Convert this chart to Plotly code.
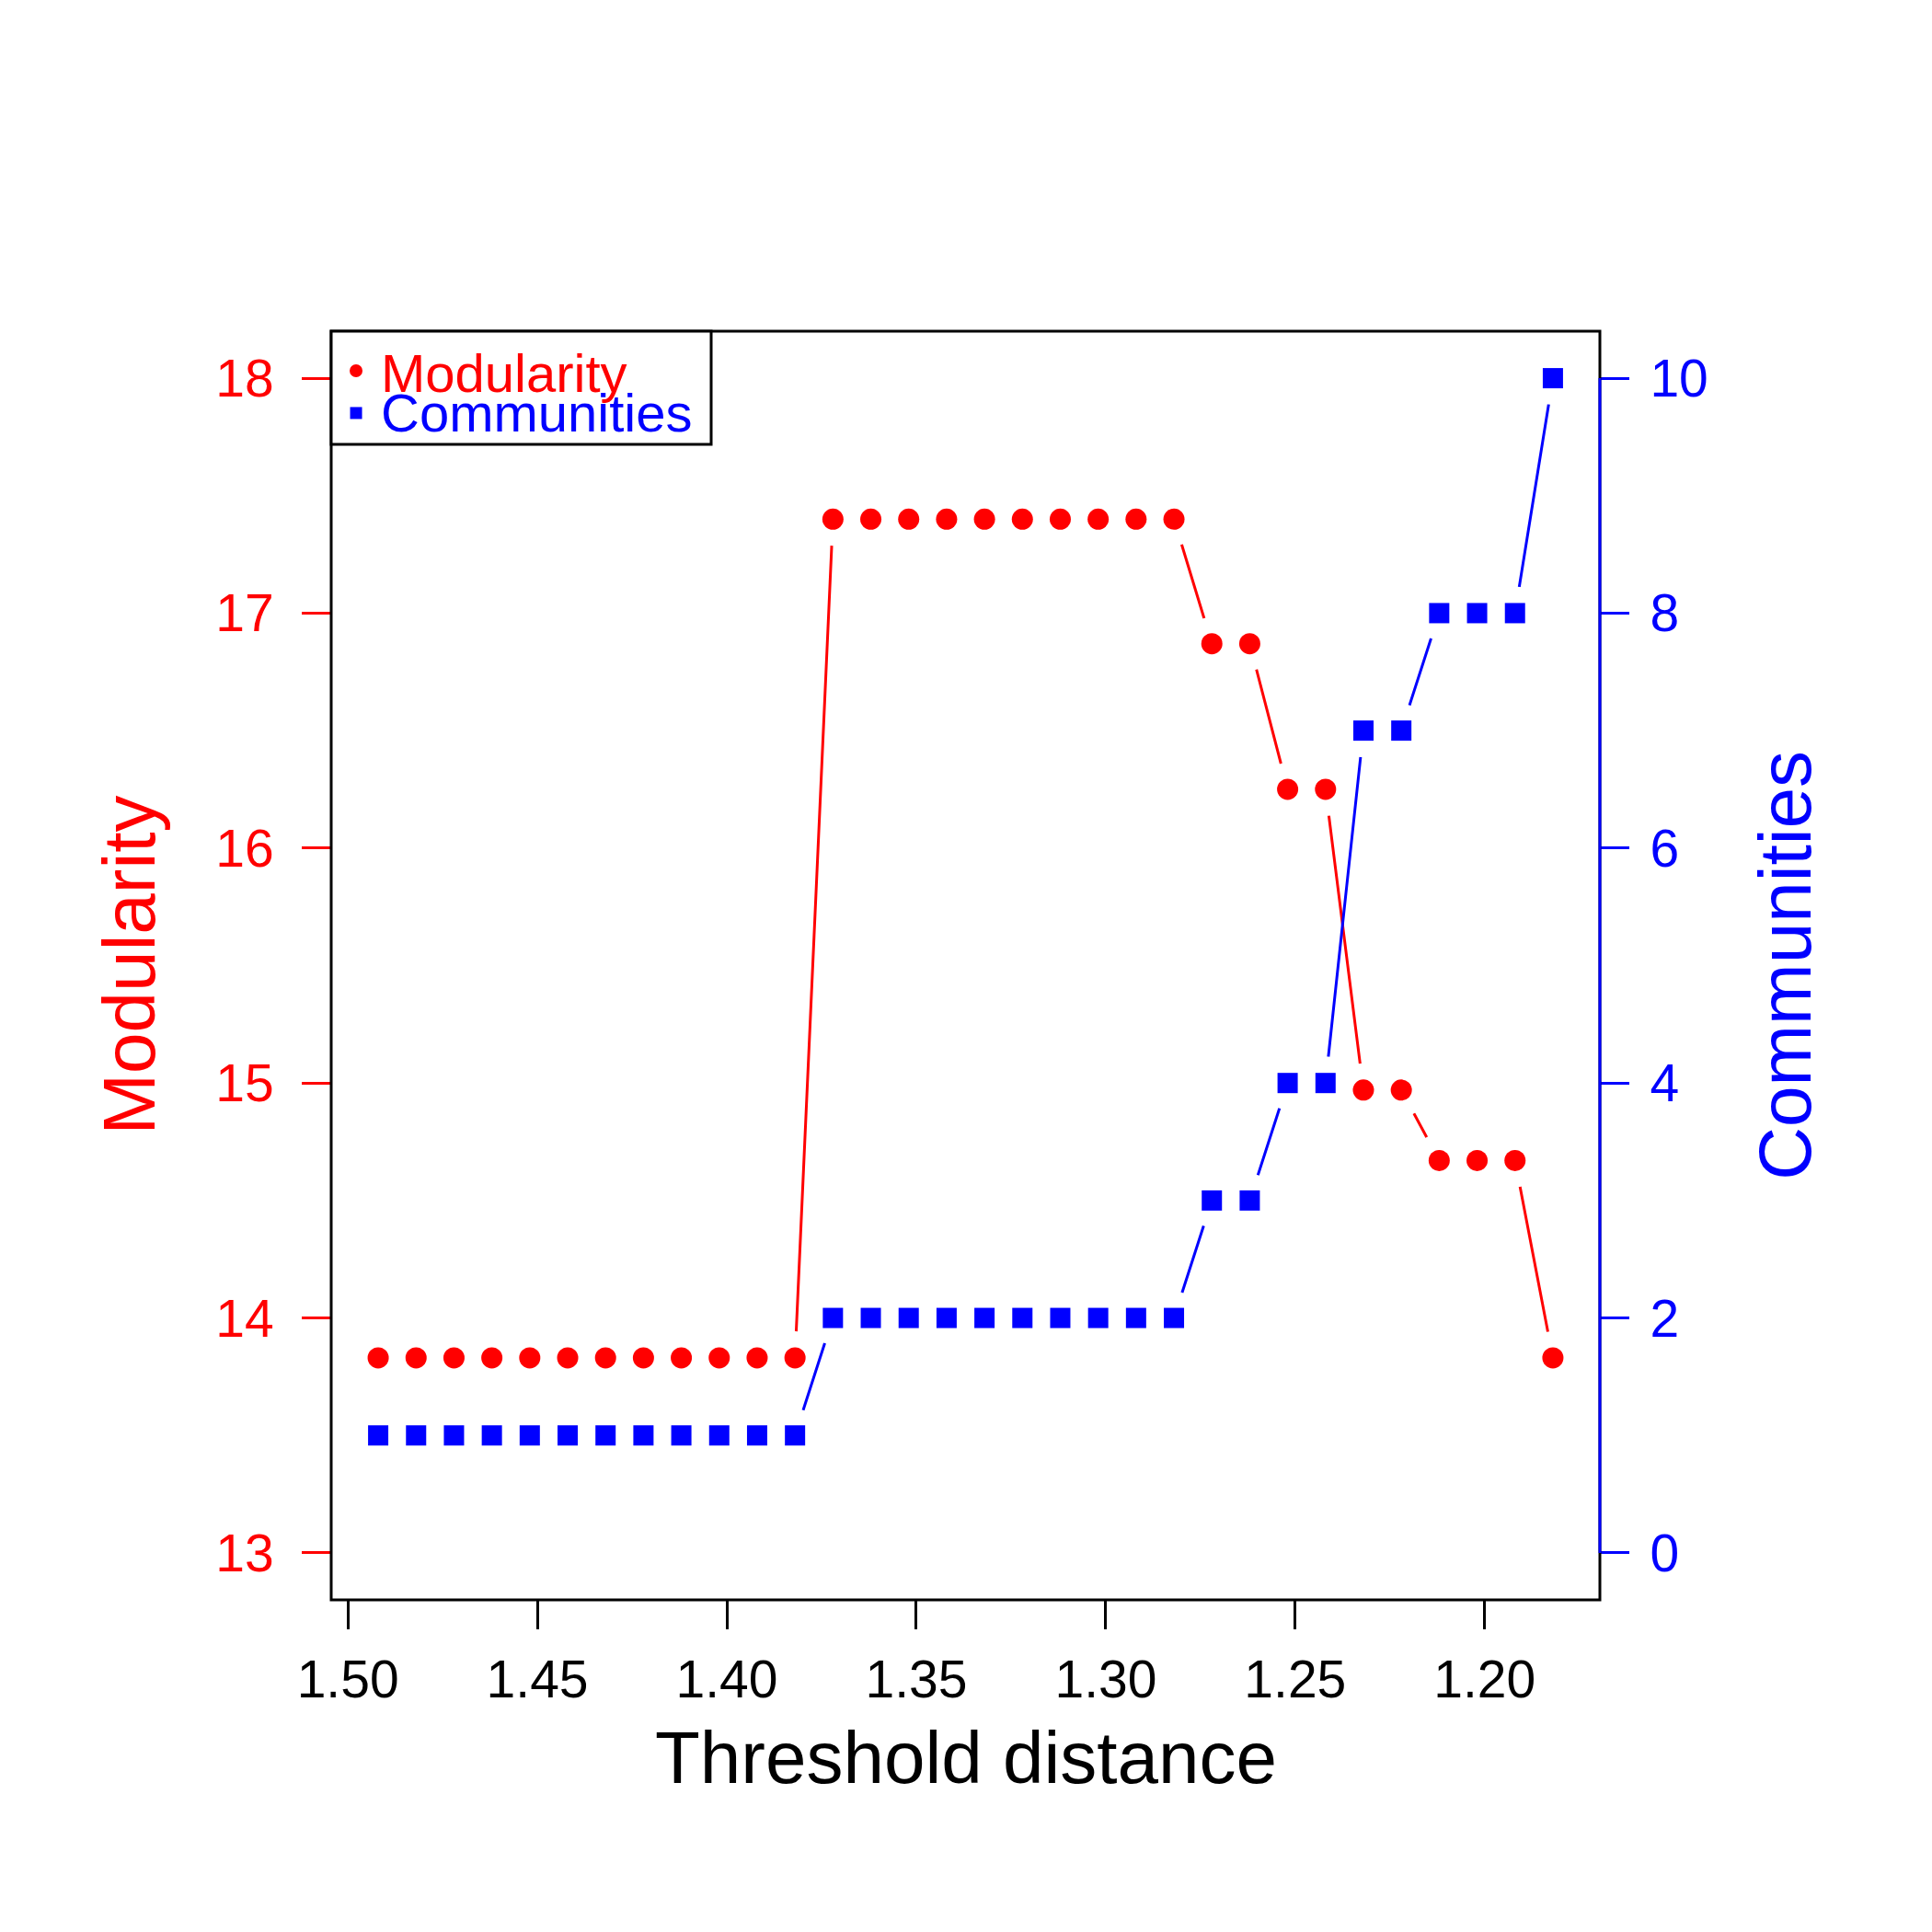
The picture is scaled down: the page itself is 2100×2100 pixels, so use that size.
import plotly.graph_objects as go

# Data
threshold = [1.492, 1.482, 1.472, 1.462, 1.452, 1.442, 1.432, 1.422, 1.412, 1.402,
             1.392, 1.382, 1.372, 1.362, 1.352, 1.342, 1.332, 1.322, 1.312, 1.302,
             1.292, 1.282, 1.272, 1.262, 1.252, 1.242, 1.232, 1.222, 1.212, 1.202,
             1.192, 1.182]
modularity = [13.83, 13.83, 13.83, 13.83, 13.83, 13.83, 13.83, 13.83, 13.83, 13.83,
              13.83, 13.83, 17.40, 17.40, 17.40, 17.40, 17.40, 17.40, 17.40, 17.40,
              17.40, 17.40, 16.87, 16.87, 16.25, 16.25, 14.97, 14.97, 14.67, 14.67,
              14.67, 13.83]
communities = [1, 1, 1, 1, 1, 1, 1, 1, 1, 1,
               1, 1, 2, 2, 2, 2, 2, 2, 2, 2,
               2, 2, 3, 3, 4, 4, 7, 7, 8, 8,
               8, 10]

x_ticks = [1.50, 1.45, 1.40, 1.35, 1.30, 1.25, 1.20]
mod_ticks = [13, 14, 15, 16, 17, 18]
com_ticks = [0, 2, 4, 6, 8, 10]

RED = "#FF0000"
BLUE = "#0000FF"
FONT = "Liberation Sans, Arial, sans-serif"
HALO = 58  # white disc behind each point -> R type="b" gaps

fig = go.Figure()

# red line + halo
fig.add_trace(go.Scatter(x=threshold, y=modularity, mode="lines",
                         line=dict(color=RED, width=3), yaxis="y", showlegend=False))
fig.add_trace(go.Scatter(x=threshold, y=modularity, mode="markers",
                         marker=dict(color="white", size=HALO, line=dict(width=0)),
                         yaxis="y", showlegend=False))
# blue line + halo
fig.add_trace(go.Scatter(x=threshold, y=communities, mode="lines",
                         line=dict(color=BLUE, width=3), yaxis="y2", showlegend=False))
fig.add_trace(go.Scatter(x=threshold, y=communities, mode="markers",
                         marker=dict(color="white", size=HALO, line=dict(width=0)),
                         yaxis="y2", showlegend=False))
# points
fig.add_trace(go.Scatter(x=threshold, y=modularity, mode="markers", name="Modularity",
                         marker=dict(color=RED, size=23, symbol="circle", line=dict(width=0)),
                         yaxis="y", showlegend=False))
fig.add_trace(go.Scatter(x=threshold, y=communities, mode="markers", name="Communities",
                         marker=dict(color=BLUE, size=22, symbol="square", line=dict(width=0)),
                         yaxis="y2", showlegend=False))

# R style 4% axis extension
xr = (max(threshold) - min(threshold)) * 0.04
yr = (max(mod_ticks) - min(mod_ticks)) * 0.04
y2r = (max(com_ticks) - min(com_ticks)) * 0.04

fig.update_layout(
    width=2100, height=2100,
    margin=dict(l=352, r=369, t=352, b=369),
    paper_bgcolor="white", plot_bgcolor="white",
    font=dict(family=FONT, size=57, color="black"),
    xaxis=dict(range=[max(threshold) + xr, min(threshold) - xr],
               tickvals=x_ticks, ticktext=["%.2f" % v for v in x_ticks],
               ticks="outside", ticklen=31, tickwidth=3, tickcolor="black",
               ticklabelstandoff=6, showgrid=False, zeroline=False, showline=False,
               tickfont=dict(size=57, color="black")),
    yaxis=dict(range=[min(mod_ticks) - yr, max(mod_ticks) + yr], tickvals=mod_ticks,
               ticks="outside", ticklen=31, tickwidth=3, tickcolor=RED,
               ticklabelstandoff=19, showgrid=False, zeroline=False, showline=False,
               tickfont=dict(size=57, color=RED)),
    yaxis2=dict(range=[min(com_ticks) - y2r, max(com_ticks) + y2r], tickvals=com_ticks,
                overlaying="y", side="right",
                ticks="outside", ticklen=31, tickwidth=3, tickcolor=BLUE,
                ticklabelstandoff=11, showgrid=False, zeroline=False, showline=False,
                tickfont=dict(size=57, color=BLUE)),
    showlegend=False,
)

shapes = [
    # plot box
    dict(type="rect", xref="paper", yref="paper", x0=0, x1=1, y0=0, y1=1,
         line=dict(color="black", width=3), layer="above"),
    # blue right axis line over tick span
    dict(type="line", xref="paper", yref="y2", x0=1, x1=1,
         y0=min(com_ticks), y1=max(com_ticks), line=dict(color=BLUE, width=3), layer="above"),
    # legend box
    dict(type="rect", xref="paper", yref="paper", x0=0, x1=0.2995, y0=0.9108, y1=1,
         fillcolor="white", line=dict(color="black", width=3), layer="above"),
    # legend symbols
    dict(type="circle", xref="paper", yref="paper", xsizemode="pixel", ysizemode="pixel",
         xanchor=0.0196, yanchor=0.9688, x0=-7, x1=7, y0=-7, y1=7,
         fillcolor=RED, line=dict(width=0), layer="above"),
    dict(type="rect", xref="paper", yref="paper", xsizemode="pixel", ysizemode="pixel",
         xanchor=0.0196, yanchor=0.9355, x0=-6.5, x1=6.5, y0=-6.5, y1=6.5,
         fillcolor=BLUE, line=dict(width=0), layer="above"),
]

annotations = [
    dict(text="Modularity", xref="paper", yref="paper", x=0.0377, y=0.9667,
         xanchor="left", yanchor="middle", showarrow=False,
         font=dict(family=FONT, size=58, color=RED)),
    dict(text="Communities", xref="paper", yref="paper", x=0.0377, y=0.9355,
         xanchor="left", yanchor="middle", showarrow=False,
         font=dict(family=FONT, size=58, color=BLUE)),
    dict(text="Threshold distance", xref="paper", yref="paper", x=0.5, y=-0.1245,
         xanchor="center", yanchor="middle", showarrow=False,
         font=dict(family=FONT, size=80, color="black")),
    dict(text="Modularity", xref="paper", yref="paper", x=-0.1595, y=0.5,
         xanchor="center", yanchor="middle", textangle=-90, showarrow=False,
         font=dict(family=FONT, size=80, color=RED)),
    dict(text="Communities", xref="paper", yref="paper", x=1.146, y=0.5,
         xanchor="center", yanchor="middle", textangle=-90, showarrow=False,
         font=dict(family=FONT, size=80, color=BLUE)),
]

fig.update_layout(shapes=shapes, annotations=annotations)

fig.write_html("out.html")
